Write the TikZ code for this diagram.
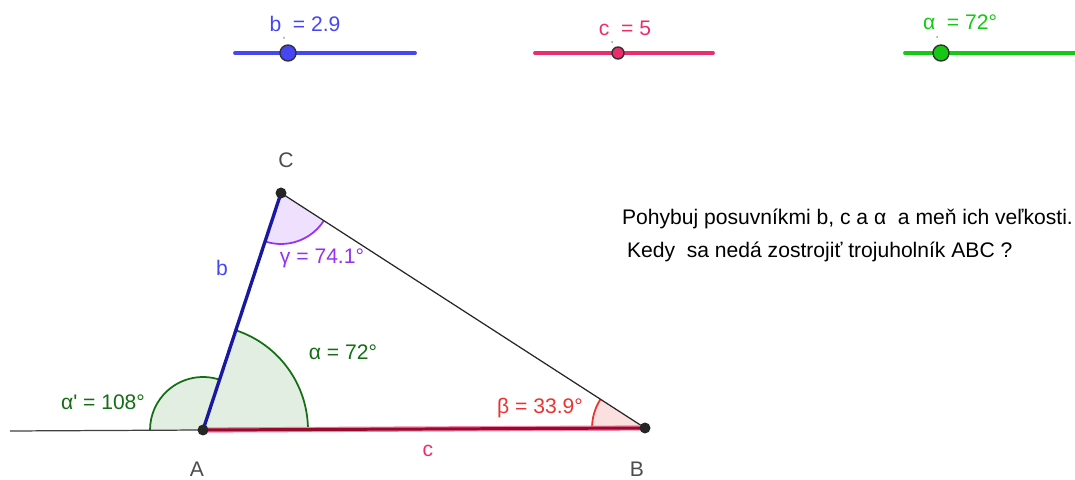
\documentclass[tikz,border=0pt]{standalone}
\usepackage{fontspec}
\setmainfont{Liberation Sans}
\usetikzlibrary{angles}

\definecolor{sliderB}{RGB}{70,70,245}
\definecolor{sliderC}{RGB}{235,45,110}
\definecolor{sliderA}{RGB}{20,200,20}
\definecolor{sideB}{RGB}{25,25,160}
\definecolor{sideC}{RGB}{150,10,45}
\definecolor{angA}{RGB}{20,110,20}
\definecolor{angG}{RGB}{150,50,240}
\definecolor{angBeta}{RGB}{235,50,50}

\tikzstyle{lbl} = [font=\fontsize{12}{14}\selectfont, inner sep=1pt]
\tikzstyle{slider} = [line width=2.2pt, line cap=round]
\tikzstyle{knob} = [circle, draw=black!80, line width=0.8pt, minimum size=0.32cm, inner sep=0pt]
\tikzstyle{vertex} = [circle, fill=black!85, minimum size=0.22cm, inner sep=0pt]
\tikzstyle{tick} = [circle, fill=black!40, minimum size=0.04cm, inner sep=0pt]

\begin{document}
\begin{tikzpicture}[x=0.02cm, y=0.02cm]
	\useasboundingbox (0,0) rectangle (1075,480);
	%sliders
	\draw[slider, sliderB] (235,427) -- (415,427);
	\draw[slider, sliderC] (535,427) -- (713,427);
	\draw[slider, sliderA] (905,427) -- (1075,427);
	\node[knob, fill=sliderB](knobB) at (288,427) {};
	\node[knob, fill=sliderC, minimum size=0.24cm](knobC) at (618,427) {};
	\node[knob, fill=sliderA](knobA) at (941,427) {};
	\node[tick](tickB) at (284,442) {};
	\node[tick](tickC) at (612,438) {};
	\node[tick](tickA) at (937,443) {};
	\node[lbl, text=sliderB](valB) at (305,456) {b\ \ = 2.9};
	\node[lbl, text=sliderC](valC) at (625,452) {c\ \ = 5};
	\node[lbl, text=sliderA](valA) at (960,458) {α\ \ = 72°};

	%triangle
	\coordinate (A) at (203,50);
	\coordinate (B) at (645,52);
	\coordinate (C) at (281,287);
	\coordinate (L) at (10,49);

	%angles
	\pic[draw=angA, fill=angA!12, line width=1pt, angle radius=2.1cm] {angle=B--A--C};
	\pic[draw=angA, fill=angA!12, line width=1pt, angle radius=1.06cm] {angle=C--A--L};
	\pic[draw=angG, fill=angG!15, line width=1pt, angle radius=1.02cm] {angle=A--C--B};
	\pic[draw=angBeta, fill=angBeta!15, line width=1pt, angle radius=1.06cm] {angle=C--B--A};

	%edges
	\draw[black!75, line width=0.7pt] (L) -- (A);
	\draw[black!85, line width=0.7pt] (C) -- (B);
	\draw[sliderC!60, line width=3pt] (A) -- (B);
	\draw[sideC, line width=1.7pt] (A) -- (B);
	\draw[sideB, line width=1.9pt] (A) -- (C);

	\node[vertex](ptA) at (A) {};
	\node[vertex](ptB) at (B) {};
	\node[vertex](ptC) at (C) {};

	%labels
	\node[lbl, text=black!70](nameA) at (197,11) {A};
	\node[lbl, text=black!70](nameB) at (637,11) {B};
	\node[lbl, text=black!70](nameC) at (286,320) {C};
	\node[lbl, text=sliderB](nameb) at (222,212) {b};
	\node[lbl, text=sliderC](namec) at (428,29) {c};
	\node[lbl, text=angA](alpha) at (343,128) {α = 72°};
	\node[lbl, text=angA](alphaOut) at (103,78) {α\textquotesingle\ = 108°};
	\node[lbl, text=angG](gamma) at (322,222) {γ = 74.1°};
	\node[lbl, text=angBeta](beta) at (540,72) {β = 33.9°};

	%task text
	\node[lbl, anchor=west](task1) at (620,261) {Pohybuj posuvníkmi b, c a α\ \ a meň ich veľkosti.};
	\node[lbl, anchor=west](task2) at (625,228) {Kedy\ \ sa nedá zostrojiť trojuholník ABC ?};
\end{tikzpicture}
\end{document}
